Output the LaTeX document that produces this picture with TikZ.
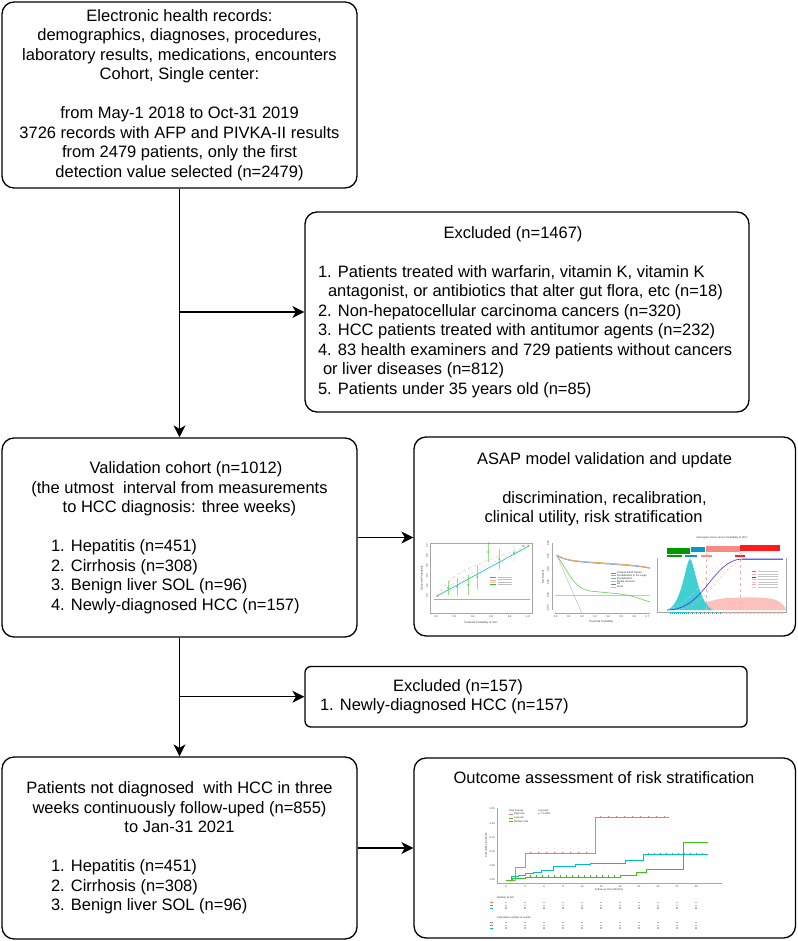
\documentclass[tikz,border=0pt]{standalone}
\usepackage{fontspec}
\setmainfont{Liberation Sans}
\usetikzlibrary{arrows.meta, positioning}

\definecolor{kmred}{HTML}{F8766D}
\definecolor{kmgreen}{HTML}{39C21A}
\definecolor{kmcyan}{HTML}{00BFC4}
\definecolor{dcaorange}{HTML}{E8A33C}
\definecolor{dcablue}{HTML}{6FA8DC}
\definecolor{dcapink}{HTML}{F4A7B9}

% left-aligned row of fixed width inside a centred box
\newcommand{\rowtext}[3][0pt]{\makebox[#2][l]{\hspace*{#1}#3}}

\begin{document}
\begin{tikzpicture}[x=1pt, y=-1pt]
    % Define styles
    \tikzset{
        flowbox/.style={draw, line width=1.3pt, rounded corners=12pt, align=center, inner sep=0pt, font=\fontsize{16.5}{19.5}\selectfont},
        boxtext/.style={align=center, inner sep=0pt, font=\fontsize{16.5}{19.5}\selectfont},
        flowarrow/.style={line width=1.3pt, -{Stealth[length=12pt, width=12pt, inset=3.5pt]}},
        plotaxis/.style={draw=gray!70, line width=0.3pt},
        tinytext/.style={inner sep=0pt, text=gray!40!black, font=\fontsize{2.6}{3}\selectfont},
        rugmark/.style={line width=0.25pt}
    }
    \useasboundingbox (0,0) rectangle (797,941);

    % Flow boxes
    \node[flowbox, minimum width=355pt, minimum height=186pt] (ehr) at (179.5,95) {
        Electronic health records:\\
        demographics, diagnoses, procedures,\\
        laboratory results, medications, encounters\\
        Cohort, Single center:\\[19.5pt]
        from May-1 2018 to Oct-31 2019\\
        3726 records with AFP and PIVKA-II results\\
        from 2479 patients, only the first\\
        detection value selected (n=2479)};

    \node[flowbox, minimum width=444pt, minimum height=200pt] (excl1) at (527,312) {
        Excluded (n=1467)\hspace*{28pt}\\[19.5pt]
        \rowtext{418pt}{1. Patients treated with warfarin, vitamin K, vitamin K}\\
        \rowtext[10pt]{418pt}{antagonist, or antibiotics that alter gut flora, etc (n=18)}\\
        \rowtext{418pt}{2. Non-hepatocellular carcinoma cancers (n=320)}\\
        \rowtext{418pt}{3. HCC patients treated with antitumor agents (n=232)}\\
        \rowtext{418pt}{4. 83 health examiners and 729 patients without cancers}\\
        \rowtext[5pt]{418pt}{or liver diseases (n=812)}\\
        \rowtext{418pt}{5. Patients under 35 years old (n=85)}};

    \node[flowbox, minimum width=355pt, minimum height=199pt] (valid) at (179.5,537.5) {
        \hspace*{13pt}Validation cohort (n=1012)\\
        (the utmost\ \ interval from measurements\\
        to HCC diagnosis: three weeks)\hspace*{15pt}\\[19.5pt]
        \rowtext{257pt}{1. Hepatitis (n=451)}\\
        \rowtext{257pt}{2. Cirrhosis (n=308)}\\
        \rowtext{257pt}{3. Benign liver SOL (n=96)}\\
        \rowtext{257pt}{4. Newly-diagnosed HCC (n=157)}};

    \node[flowbox, minimum width=381.5pt, minimum height=199pt] (asap) at (604.75,536.5) {};
    \node[boxtext] (asaptext) at (604.5,489) {
        ASAP model validation and update\\[19.5pt]
        discrimination, recalibration,\\
        clinical utility, risk stratification\hspace*{22pt}};

    \node[flowbox, rounded corners=6pt, minimum width=442pt, minimum height=60.5pt] (excl2) at (526,696.75) {
        \rowtext[73pt]{412pt}{Excluded (n=157)}\\
        \rowtext{412pt}{1. Newly-diagnosed HCC (n=157)}};

    \node[flowbox, minimum width=355pt, minimum height=182pt] (follow) at (179.5,848) {
        Patients not diagnosed\ \ with HCC in three\\
        weeks continuously follow-uped (n=855)\\
        to Jan-31 2021\hspace*{27pt}\\[19.5pt]
        \rowtext{257pt}{1. Hepatitis (n=451)}\\
        \rowtext{257pt}{2. Cirrhosis (n=308)}\\
        \rowtext{257pt}{3. Benign liver SOL (n=96)}};

    \node[flowbox, minimum width=381.5pt, minimum height=180pt] (outcome) at (604.75,848) {};
    \node[boxtext] (outcometitle) at (604,778) {Outcome assessment of risk stratification};

    % Connectors
    \coordinate (split1) at (ehr.south |- excl1.west);
    \coordinate (split2) at (valid.south |- excl2.west);
    \draw[flowarrow] (ehr.south) -- (valid.north);
    \draw[flowarrow] (split1) -- (excl1.west);
    \draw[flowarrow] (valid.east) -- (valid.east -| asap.west);
    \draw[flowarrow] (valid.south) -- (follow.north);
    \draw[flowarrow] (split2) -- (excl2.west);
    \draw[flowarrow] (follow.east) -- (follow.east -| outcome.west);

    % Calibration plot
    \draw[plotaxis] (430,543) rectangle (532,613);
    \draw[dcaorange, line width=0.6pt] (434,599) -- (530,599);
    \draw[kmcyan, line width=0.6pt] (437,596) -- (529,546);
    \draw[kmred!60, dashed, line width=0.4pt] (437,596) .. controls (452,572) and (470,566) .. (529,546);
    \draw[kmred!40, dashed, line width=0.4pt] (437,596) .. controls (455,580) and (475,570) .. (529,546);
    \foreach \px/\py/\pe in {437.3/596/1, 448.3/588/7, 457.3/587/9, 468.3/585/10, 477.3/577/12, 488.3/552/10, 499.3/559/10, 514/553/8, 523.3/546/1, 528.3/546/1}
        \draw[kmgreen!80, line width=0.4pt] (\px,\py-\pe) -- (\px,\py+\pe) (\px,\py) circle (0.8pt);
    \foreach \c [count=\i] in {kmcyan, kmred!60, kmred!40, kmgreen} {
        \draw[\c, line width=0.5pt] (490,{575+2.4*\i}) -- (496,{575+2.4*\i});
        \fill[gray!50] (498,{574.6+2.4*\i}) rectangle (512,{575.4+2.4*\i});
    }
    \foreach \v [count=\i from 0] in {0.0,0.2,0.4,0.6,0.8,1.0} {
        \node[tinytext] (calx\i) at ({436+18.4*\i},617) {\v};
        \node[tinytext, rotate=90] (caly\i) at (427,{596-10*\i}) {\v};
    }
    \node[tinytext] (calxlab) at (481,623) {Predicted Probability of HCC};
    \node[tinytext, rotate=90] (calylab) at (422,578) {Observed Probability};

    % Decision curve
    \draw[plotaxis] (552,543) -- (552,610);
    \draw[plotaxis] (555,613) -- (650,613);
    \draw[gray!45, line width=0.8pt] (555,595) -- (650,595);
    \draw[gray!60, line width=0.4pt] (556.7,555) -- (581.7,613);
    \draw[dcapink, line width=0.6pt] (556.7,555) .. controls (565,560) and (570,561) .. (600,563) .. controls (630,565) and (640,566) .. (650,568);
    \draw[dcablue, line width=0.6pt] (556.7,555.4) .. controls (565,560.4) and (570,561.4) .. (600,563.6) .. controls (630,565.6) and (640,566.4) .. (650,568.4);
    \draw[dcaorange, line width=0.6pt] (556.7,555) .. controls (565,559.6) and (570,560.6) .. (600,562.6) .. controls (630,564.6) and (640,565.6) .. (650,567.6);
    \draw[kmgreen!80, line width=0.6pt] (556.7,555) .. controls (570,575) and (575,589) .. (590,591) -- (620,594) .. controls (635,596) and (640,599) .. (650,602);
    \foreach \c/\t [count=\i] in {kmgreen/Original ASAP Model, dcaorange/Recalibration in the Large, dcablue/Recalibration, dcapink/Model Revision, gray/All, gray!50/None} {
        \draw[\c, line width=0.5pt] (611,{570+2.8*\i}) -- (616,{570+2.8*\i});
        \node[tinytext, anchor=west] (dcaleg\i) at (617,{570+2.8*\i}) {\t};
    }
    \foreach \v [count=\i from 0] in {-0.05,0.00,0.05,0.10,0.15,0.20}
        \node[tinytext, rotate=90] (dcay\i) at (548,{608.3-13*\i}) {\v};
    \foreach \v [count=\i from 0] in {0.0,0.1,0.2,0.3,0.4,0.5,0.6,0.7}
        \node[tinytext] (dcax\i) at ({555.7+13.1*\i},616.5) {\v};
    \node[tinytext, rotate=90] (dcaylab) at (543,577) {Net Benefit};
    \node[tinytext] (dcaxlab) at (601,622) {Threshold Probability};

    % Nomogram score plot
    \node[tinytext] (nomtitle) at (722,538) {Nomogram Score versus Probability of HCC};
    \fill[green!60!black] (666.7,548.3) rectangle (690,554);
    \fill[kmcyan!80!blue] (690.7,547.3) rectangle (705,551.7);
    \fill[kmred!85] (706,545.7) rectangle (740,552.3);
    \fill[red!90] (740,545) rectangle (780,551);
    \fill[green!60!black] (666.7,554.5) rectangle (681.7,556.9);
    \fill[kmcyan!80!blue] (685,554.5) rectangle (696.7,556.9);
    \fill[kmred!85] (701,554.5) rectangle (711.7,556.9);
    \fill[red!90] (735,554.5) rectangle (745,556.9);
    \fill[kmred!45] (680,610) .. controls (698,607) and (712,598) .. (730,598) .. controls (750,597) and (768,597) .. (776,600) .. controls (782,603) and (785,606) .. (786,610) -- cycle;
    \fill[kmcyan!75] (667,610) .. controls (682,606) and (686,559) .. (690,559) .. controls (694,559) and (698,604) .. (713,610) -- cycle;
    \draw[plotaxis] (657,558) -- (657,612) -- (786,612) -- (786,558);
    \draw[kmred!60, dashed, line width=0.3pt] (706,553) -- (706,610);
    \draw[kmred!60, dashed, line width=0.3pt] (740,553) -- (740,610);
    \draw[kmred!60, densely dashed, line width=0.3pt] (672,610) .. controls (712,610) and (718,562) .. (748,559);
    \draw[kmred!40, densely dashed, line width=0.3pt] (662,610) .. controls (698,608) and (706,560) .. (736,559);
    \draw[blue!80, line width=0.6pt] (667,610) .. controls (705,610) and (712,560) .. (742,559) -- (783,559);
    \draw[violet!70, line width=0.5pt] (742,559.4) -- (783,559.4);
    \foreach \rx in {670,672,...,720}
        \draw[kmcyan, rugmark] (\rx,612) -- (\rx,614);
    \foreach \rx in {690,694,...,782}
        \draw[kmred!70, rugmark] (\rx,612) -- (\rx,614);
    \foreach \c [count=\i] in {kmcyan, kmred!60, blue!80, kmred!60, kmred!40, kmred!60, kmred!40} {
        \draw[\c, line width=0.5pt] (752,{569+2.6*\i}) -- (756,{569+2.6*\i});
        \fill[gray!45] (758,{568.6+2.6*\i}) rectangle (778,{569.4+2.6*\i});
    }

    % Cumulative incidence plot
    \draw[plotaxis] (496.7,808) -- (496.7,882.7) -- (721.7,882.7);
    \foreach \t [count=\i from 0] in {0,3,...,30} {
        \draw[plotaxis] ({506+6.333*\t},882.7) -- ({506+6.333*\t},884.3);
        \node[tinytext] (kmx\i) at ({506+6.333*\t},886.5) {\t};
    }
    \foreach \v [count=\i from 0] in {0.00,0.05,0.10,0.15,0.20,0.25}
        \node[tinytext, anchor=east] (kmy\i) at (495,{880-14.2*\i}) {\v};
    \node[tinytext] (kmxlab) at (609,890) {Follow-up time (Months)};
    \node[tinytext, rotate=90] (kmylab) at (486,845) {Cumulative incidence};
    \draw[kmred, line width=0.7pt] (506,880) -| (515,867.7) -| (525.7,853.3) -| (595,817.3) -- (669.3,817.3);
    \draw[kmcyan, line width=0.7pt] (506,880) -| (511,876.7) -| (518,875) -| (525.7,873.3) -| (533,872) -| (541.7,870) -| (553.3,866) -| (575,864.5) -| (590,863.3) -| (625,860) -| (643.3,854.3) -- (708.3,854.3);
    \draw[kmgreen, line width=0.7pt] (506,880) -| (512,878.5) -| (525.7,877.7) -| (620,875.7) -| (636.7,872.3) -| (646.7,869.3) -| (683.3,842.3) -- (708.3,842.3);
    \foreach \cx in {530,538,...,590}
        \draw[kmred, rugmark] (\cx,852.3) -- (\cx,854.3);
    \foreach \cx in {600,608,...,666}
        \draw[kmred, rugmark] (\cx,816.3) -- (\cx,818.3);
    \foreach \cx in {648,654,...,706}
        \draw[kmcyan, rugmark] (\cx,853.3) -- (\cx,855.3);
    \foreach \cx in {530,536,...,616}
        \draw[kmgreen, rugmark] (\cx,874.7) -- (\cx,876.7);
    \node[tinytext, anchor=west] (kmlegtitle) at (509,810.7) {Risk Groups};
    \foreach \c/\t/\ly [count=\i] in {kmred/High risk/814.3, kmgreen/Low risk/818, kmcyan/Medium risk/821.7} {
        \draw[\c, line width=0.6pt] (509,\ly) -- (513,\ly);
        \node[tinytext, anchor=west] (kmleg\i) at (514,\ly) {\t};
    }
    \node[tinytext, anchor=west] (kmlogrank) at (538,810.7) {Log-rank};
    \node[tinytext, anchor=west] (kmpval) at (538,814.3) {p < 0.0001};

    % Risk tables
    \node[tinytext, anchor=west] (riskhead) at (496.7,897.3) {Number at risk};
    \node[tinytext, anchor=west] (eventhead) at (496.7,917.3) {Cumulative number of events};
    \foreach \c/\ry in {kmred/902.7, kmgreen/905.3, kmcyan/908, kmred/922.5, kmgreen/925.2, kmcyan/927.9}
        \draw[\c, line width=0.6pt] (490,\ry) -- (493,\ry);
    \foreach \t in {0,3,...,30}
        \foreach \ry in {902.7,905.3,908,922.5,925.2,927.9}
            \fill[gray!55] ({506+6.333*\t-1.4},\ry-0.6) rectangle ({506+6.333*\t+1.4},\ry+0.6);
\end{tikzpicture}
\end{document}
